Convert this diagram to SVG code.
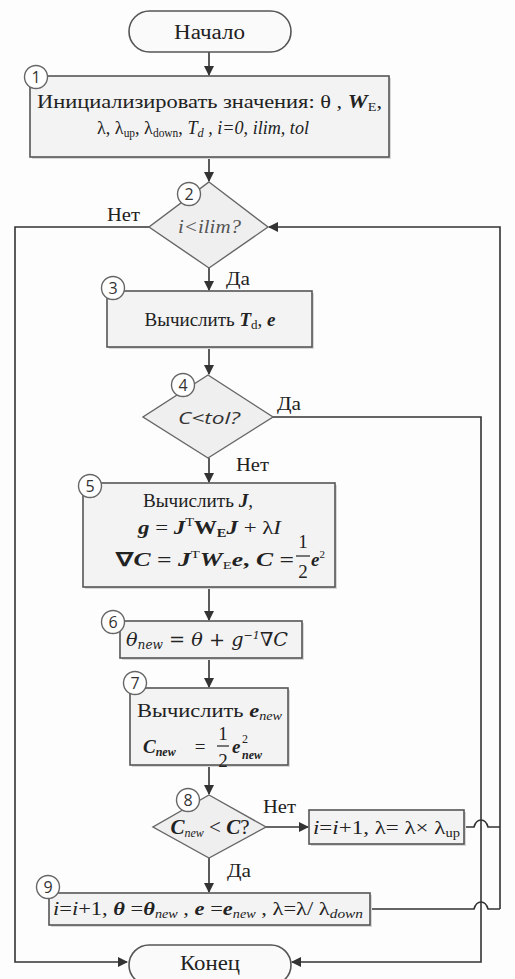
<svg xmlns="http://www.w3.org/2000/svg" width="515" height="979" viewBox="0 0 515 979">
<style>
.bg{fill:#fdfdfd}
.box{fill:#f3f3f3;stroke:#555;stroke-width:1.6}
.sh{fill:#d8d8d8}
.term{fill:#fafafa;stroke:#555;stroke-width:1.6}
.dia{fill:#efefef;stroke:#666;stroke-width:1.4}
.num{fill:#fff;stroke:#666;stroke-width:1.4}
.nt{font-family:"Open Sans","Liberation Sans",sans-serif;font-size:16px;fill:#333;text-anchor:middle}
.t{font-family:"Liberation Serif","Times New Roman",serif;font-size:19px;fill:#222}
.c{text-anchor:middle}
.i{font-style:italic}
.b{font-weight:bold}
.m{font-family:"DejaVu Serif","Liberation Serif",serif;font-style:italic}
.ln{fill:none;stroke:#333;stroke-width:1.6}
</style>
<defs>
<marker id="ah" markerWidth="10" markerHeight="10" refX="9" refY="5" orient="auto" markerUnits="userSpaceOnUse">
<path d="M0,0 L10,5 L0,10 Z" fill="#333"/>
</marker>
</defs>
<rect class="bg" x="0" y="0" width="515" height="979"/>

<g id="connectors">
<path class="ln" d="M209,52 V75" marker-end="url(#ah)"/>
<path class="ln" d="M209,157 V181" marker-end="url(#ah)"/>
<path class="ln" d="M209,268 V290" marker-end="url(#ah)"/>
<path class="ln" d="M149,227 H15 V962 H127" marker-end="url(#ah)"/>
<path class="ln" d="M500,909 V227 H269" marker-end="url(#ah)"/>
<path class="ln" d="M209,347 V374" marker-end="url(#ah)"/>
<path class="ln" d="M273,417 H481 V962 H292" marker-end="url(#ah)"/>
<path class="ln" d="M209,458 V482" marker-end="url(#ah)"/>
<path class="ln" d="M209,587 V620" marker-end="url(#ah)"/>
<path class="ln" d="M209,658 V687" marker-end="url(#ah)"/>
<path class="ln" d="M209,765 V794" marker-end="url(#ah)"/>
<path class="ln" d="M266,827 H308" marker-end="url(#ah)"/>
<path class="ln" d="M464,827 H474 Q476,820 481,820 Q486,820 488,827 H500"/>
<path class="ln" d="M209,858 V892" marker-end="url(#ah)"/>
<path class="ln" d="M370,909 H474 Q476,902 481,902 Q486,902 488,909 H500"/>
<text class="t" x="107" y="221" textLength="33" lengthAdjust="spacingAndGlyphs">Нет</text>
<text class="t" x="226" y="285" textLength="24" lengthAdjust="spacingAndGlyphs">Да</text>
<text class="t" x="277" y="410" textLength="24" lengthAdjust="spacingAndGlyphs">Да</text>
<text class="t" x="236" y="471" textLength="33" lengthAdjust="spacingAndGlyphs">Нет</text>
<text class="t" x="263" y="813" textLength="33" lengthAdjust="spacingAndGlyphs">Нет</text>
<text class="t" x="227" y="877" textLength="24" lengthAdjust="spacingAndGlyphs">Да</text>
</g>

<g id="start">
<rect class="term" x="129" y="11" width="162" height="41" rx="20.5"/>
<text class="t" x="174" y="39" style="font-size:20px" textLength="71" lengthAdjust="spacingAndGlyphs">Начало</text>
</g>

<g id="n1">
<rect class="sh" x="32" y="78" width="359" height="81"/>
<rect class="box" x="30" y="76" width="359" height="81"/>
<text class="t" x="37" y="108" textLength="345" lengthAdjust="spacingAndGlyphs">Инициализировать значения: θ , <tspan class="i b">W</tspan><tspan font-size="12" dy="3">E</tspan><tspan dy="-3">,</tspan></text>
<text class="t" x="97" y="134" textLength="212" lengthAdjust="spacingAndGlyphs">λ, λ<tspan font-size="12" dy="3">up</tspan><tspan dy="-3">, λ</tspan><tspan font-size="12" dy="3">down</tspan><tspan dy="-3">, </tspan><tspan class="i">T<tspan font-size="13" dy="3">d</tspan><tspan dy="-3"> , i=0, ilim, tol</tspan></tspan></text>
<circle class="num" cx="36" cy="77" r="11.5"/>
<text class="nt" x="36" y="83">1</text>
</g>

<g id="n2">
<path class="dia" d="M209,182 L268,227 L209,268 L149,227 Z"/>
<text class="t i" x="178" y="233" fill="#555" style="font-size:18px;fill:#555" textLength="63" lengthAdjust="spacingAndGlyphs">i&lt;ilim?</text>
<circle class="num" cx="189" cy="194" r="11.5"/>
<text class="nt" x="189" y="200">2</text>
</g>

<g id="n3">
<rect class="sh" x="109" y="293" width="205" height="56"/>
<rect class="box" x="107" y="291" width="205" height="56"/>
<text class="t c" x="210" y="326">Вычислить <tspan class="i b">T</tspan><tspan font-size="13" dy="3">d</tspan><tspan dy="-3">, </tspan><tspan class="i b">e</tspan></text>
<circle class="num" cx="113" cy="288" r="11.5"/>
<text class="nt" x="113" y="294">3</text>
</g>

<g id="n4">
<path class="dia" d="M208,375 L273,417 L208,458 L143,417 Z"/>
<text x="178" y="424" font-family="'Open Sans','Noto Sans',sans-serif" font-style="italic" font-size="17" fill="#333" textLength="62" lengthAdjust="spacingAndGlyphs">C&lt;tol?</text>
<circle class="num" cx="183" cy="385" r="11.5"/>
<text class="nt" x="183" y="391">4</text>
</g>

<g id="n5">
<rect class="sh" x="85" y="485" width="252" height="104"/>
<rect class="box" x="83" y="483" width="252" height="104"/>
<text class="t" x="143" y="507" textLength="110" lengthAdjust="spacingAndGlyphs">Вычислить  <tspan class="i b">J</tspan>,</text>
<text class="t" x="138" y="534" textLength="143" lengthAdjust="spacingAndGlyphs"><tspan class="i b">g</tspan> = <tspan class="i b">J</tspan><tspan font-size="12" dy="-8">T</tspan><tspan class="b" dy="8">W</tspan><tspan class="b" font-size="12" dy="3">E</tspan><tspan class="i b" dy="-3">J</tspan> + λ<tspan class="i">I</tspan></text>
<text class="t b" x="116" y="566" textLength="178" lengthAdjust="spacingAndGlyphs">∇<tspan class="i">C</tspan> = <tspan class="i">J</tspan><tspan font-size="11" dy="-8" font-weight="normal">T</tspan><tspan class="i" dy="8">W</tspan><tspan font-size="11" dy="3" font-weight="normal">E</tspan><tspan class="i" dy="-3">e</tspan>, <tspan class="i">C</tspan> =</text>
<text class="t c" x="303" y="548">1</text>
<line x1="296" y1="556" x2="310" y2="556" stroke="#222" stroke-width="1.2"/>
<text class="t c" x="303" y="578">2</text>
<text class="t b i" x="311" y="566">e<tspan font-size="11" dy="-8" font-style="normal" font-weight="normal">2</tspan></text>
<circle class="num" cx="90" cy="486" r="11.5"/>
<text class="nt" x="90" y="492">5</text>
</g>

<g id="n6">
<rect class="sh" x="122" y="623" width="182" height="37"/>
<rect class="box" x="120" y="621" width="182" height="37"/>
<text class="t m" x="126" y="646" textLength="162" lengthAdjust="spacingAndGlyphs">θ<tspan font-size="12" dy="3">new</tspan><tspan dy="-3"> = θ + g</tspan><tspan font-size="11" dy="-7">−1</tspan><tspan dy="7">∇C</tspan></text>
<circle class="num" cx="113" cy="622" r="11.5"/>
<text class="nt" x="113" y="628">6</text>
</g>

<g id="n7">
<rect class="sh" x="132" y="690" width="158" height="77"/>
<rect class="box" x="130" y="688" width="158" height="77"/>
<text class="t" x="137" y="717" textLength="145" lengthAdjust="spacingAndGlyphs">Вычислить <tspan class="i b">e</tspan><tspan class="i" font-size="12" dy="3">new</tspan></text>
<text class="t b i" x="143" y="753">C<tspan font-size="12" dy="3">new</tspan></text>
<text class="t c" x="200" y="753">=</text>
<text class="t c" x="223" y="740">1</text>
<line x1="217" y1="746" x2="229" y2="746" stroke="#222" stroke-width="1.2"/>
<text class="t c" x="223" y="767">2</text>
<text class="t b i" x="232" y="753">e</text>
<text class="t" x="242" y="743" style="font-size:12px">2</text>
<text class="t b i" x="242" y="759" style="font-size:12px">new</text>
<circle class="num" cx="135" cy="683" r="11.5"/>
<text class="nt" x="135" y="689">7</text>
</g>

<g id="n8">
<path class="dia" d="M209,795 L266,827 L209,858 L153,827 Z"/>
<text class="t c" x="210" y="834" style="font-size:21px"><tspan class="i b">C</tspan><tspan class="i" font-size="12" dy="3">new</tspan><tspan dy="-3"> &lt; </tspan><tspan class="i b">C</tspan>?</text>
<circle class="num" cx="188" cy="800" r="11.5"/>
<text class="nt" x="188" y="806">8</text>
</g>

<g id="n8no">
<rect class="sh" x="311" y="812" width="155" height="34"/>
<rect class="box" x="309" y="810" width="155" height="34"/>
<text class="t" x="313" y="834" textLength="147" lengthAdjust="spacingAndGlyphs"><tspan class="i">i</tspan>=<tspan class="i">i</tspan>+1, λ= λ× λ<tspan font-size="12" dy="3">up</tspan></text>
</g>

<g id="n9">
<rect class="sh" x="51" y="895" width="321" height="32"/>
<rect class="box" x="49" y="893" width="321" height="32"/>
<text class="t" x="53" y="915" textLength="310" lengthAdjust="spacingAndGlyphs"><tspan class="i">i</tspan>=<tspan class="i">i</tspan>+1, <tspan class="i b">θ</tspan> =<tspan class="i b">θ</tspan><tspan class="i" font-size="12" dy="3">new</tspan><tspan dy="-3">  , </tspan><tspan class="i b">e</tspan> =<tspan class="i b">e</tspan><tspan class="i" font-size="12" dy="3">new</tspan><tspan dy="-3">  , λ=λ/ λ</tspan><tspan class="i" font-size="13" dy="3">down</tspan></text>
<circle class="num" cx="48" cy="887" r="11.5"/>
<text class="nt" x="48" y="893">9</text>
</g>

<g id="end">
<rect class="term" x="129" y="945" width="162" height="40" rx="20"/>
<text class="t" x="180" y="970" style="font-size:20px" textLength="60" lengthAdjust="spacingAndGlyphs">Конец</text>
</g>
</svg>
